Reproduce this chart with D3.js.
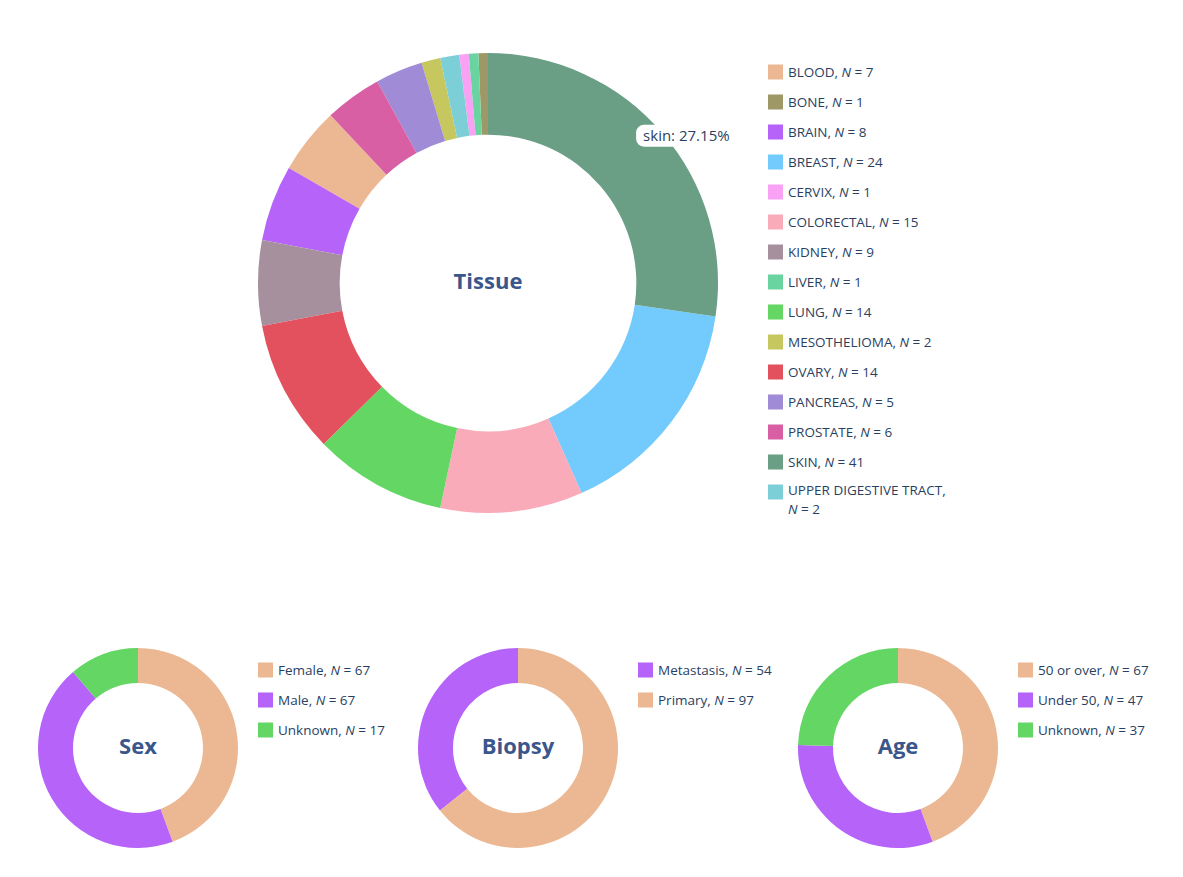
<!DOCTYPE html>
<html>
<head>
<meta charset="utf-8">
<script src="https://cdn.jsdelivr.net/npm/d3@7"></script>
<style>
  body { margin: 0; background: #fff; }
  svg { font-family: "Open Sans", Lato, sans-serif; }
</style>
</head>
<body>
<svg width="1183" height="877"></svg>
<script>
// data, legend order
var tissueLabels = ["BLOOD", "BONE", "BRAIN", "BREAST", "CERVIX", "COLORECTAL", "KIDNEY", "LIVER",
    "LUNG", "MESOTHELIOMA", "OVARY", "PANCREAS", "PROSTATE", "SKIN", "UPPER DIGESTIVE TRACT"];
var tissueCounts = [7, 1, 8, 24, 1, 15, 9, 1, 14, 2, 14, 5, 6, 41, 2];
var tissueColors = ["#ebb893", "#9e9766", "#b663f9", "#73cbfd", "#f9a2f5", "#f9abb9", "#a6909e", "#6ad4a0",
    "#63d663", "#c7c75f", "#e3515f", "#a08bd6", "#d95fa5", "#6a9f86", "#7ccfd6"];
// slice order, clockwise from 12 o'clock
var tissueOrder = ["SKIN", "BREAST", "COLORECTAL", "LUNG", "OVARY", "KIDNEY", "BRAIN", "BLOOD",
    "PROSTATE", "PANCREAS", "MESOTHELIOMA", "UPPER DIGESTIVE TRACT", "CERVIX", "LIVER", "BONE"];

var sexLabels = ["Female", "Male", "Unknown"];
var sexCounts = [67, 67, 17];
var sexColors = ["#ebb893", "#b663f9", "#63d663"];

var biopsyLabels = ["Metastasis", "Primary"];
var biopsyCounts = [54, 97];
var biopsyColors = ["#b663f9", "#ebb893"];

var ageLabels = ["50 or over", "Under 50", "Unknown"];
var ageCounts = [67, 47, 37];
var ageColors = ["#ebb893", "#b663f9", "#63d663"];

var textColor = "#2a3f5f",
    titleColor = "#3a568a";

var svg = d3.select("svg");

function donut(opts) {
    var data = opts.labels.map(function(l, i) {
        return {label: l, n: opts.counts[i], color: opts.colors[i]};
    });

    var order = opts.order;
    var pie = d3.pie()
        .value(d => d.n)
        .sort(order ? function(a, b) { return order.indexOf(a.label) - order.indexOf(b.label); }
                    : function(a, b) { return b.n - a.n; });

    var arc = d3.arc().innerRadius(opts.r * opts.hole).outerRadius(opts.r);

    var g = svg.append("g")
        .attr("transform", "translate(" + opts.cx + "," + opts.cy + ")");

    var arcs = pie(data);
    g.selectAll("path")
      .data(arcs)
      .enter().append("path")
      .attr("d", arc)
      .attr("fill", d => d.data.color);

    // center title
    g.append("text")
        .attr("text-anchor", "middle")
        .attr("y", -2)
        .attr("dy", "0.35em")
        .style("font-size", "22px")
        .style("font-weight", "bold")
        .style("fill", titleColor)
        .text(opts.title);

    // legend
    var legend = svg.append("g")
        .attr("transform", "translate(" + opts.lx + "," + opts.ly + ")");

    var rows = legend.selectAll("g")
      .data(data)
      .enter().append("g")
      .attr("transform", (d, i) => "translate(0," + (i * 30) + ")");

    rows.append("rect")
        .attr("x", 0)
        .attr("y", -7.5)
        .attr("width", 15)
        .attr("height", 15)
        .attr("fill", d => d.color);

    rows.each(function(d) {
        var row = d3.select(this);
        var wrap = d.label.length > 20;
        var t = row.append("text")
            .attr("x", 20)
            .attr("y", wrap ? -1.5 : 0)
            .attr("dy", "0.35em")
            .style("font-size", "13.5px")
            .style("fill", textColor);
        t.append("tspan").text(d.label + (wrap ? "," : ", "));
        if (wrap) {
            // long names go on two lines
            t = row.append("text")
                .attr("x", 20)
                .attr("y", 17)
                .attr("dy", "0.35em")
                .style("font-size", "13.5px")
                .style("fill", textColor);
        }
        t.append("tspan").style("font-style", "italic").text("N");
        t.append("tspan").text(" = " + d.n);
    });

    return {g: g, arcs: arcs};
}

var tissue = donut({
    labels: tissueLabels, counts: tissueCounts, colors: tissueColors, order: tissueOrder,
    title: "Tissue", cx: 488, cy: 283, r: 230, hole: 0.645, lx: 768, ly: 72
});

donut({
    labels: sexLabels, counts: sexCounts, colors: sexColors,
    title: "Sex", cx: 138, cy: 748, r: 100, hole: 0.65, lx: 258, ly: 670
});

donut({
    labels: biopsyLabels, counts: biopsyCounts, colors: biopsyColors,
    title: "Biopsy", cx: 518, cy: 748, r: 100, hole: 0.65, lx: 638, ly: 670
});

donut({
    labels: ageLabels, counts: ageCounts, colors: ageColors,
    title: "Age", cx: 898, cy: 748, r: 100, hole: 0.65, lx: 1018, ly: 670
});

// hover label on the skin slice (share of all 151 samples)
var skin = tissue.arcs.find(d => d.data.label === "SKIN");
var allSamples = d3.sum(sexCounts);
var mid = (skin.startAngle + skin.endAngle) / 2;
var px = Math.sin(mid) * 230, py = -Math.cos(mid) * 230;
var hover = tissue.g.append("g")
    .attr("transform", "translate(" + (px - 26) + "," + (py + 3) + ")");
var hoverText = hover.append("text")
    .attr("x", 7)
    .attr("dy", "0.35em")
    .style("font-size", "15px")
    .style("fill", textColor)
    .text("skin: " + d3.format(".2f")(skin.data.n / allSamples * 100) + "%");
var bw = hoverText.node().getComputedTextLength() + 14;
hover.insert("rect", "text")
    .attr("x", 0)
    .attr("y", -11)
    .attr("width", bw)
    .attr("height", 22)
    .attr("rx", 8)
    .attr("fill", "#fff");
</script>
</body>
</html>
